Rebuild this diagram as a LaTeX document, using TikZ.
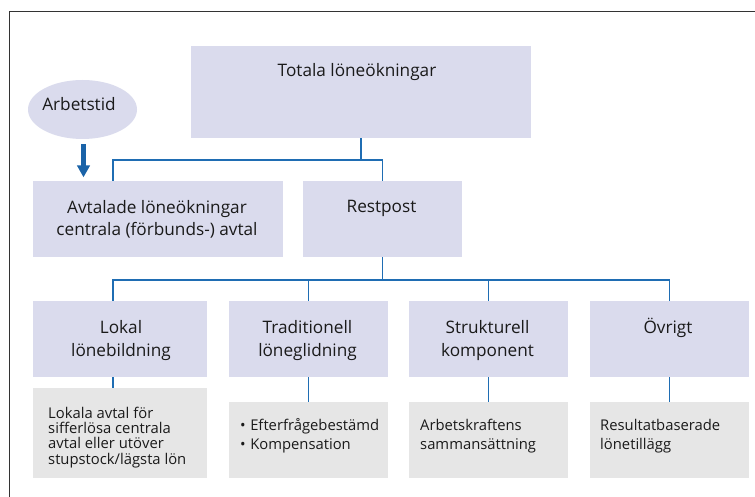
\documentclass[tikz,border=0pt]{standalone}
\usepackage{fontspec}
\setmainfont{Open Sans}
\usetikzlibrary{shapes.geometric,arrows.meta}
\definecolor{lav}{HTML}{DADBED}
\definecolor{grayb}{HTML}{E6E6E6}
\definecolor{conblue}{HTML}{1F6DB3}
\definecolor{arrblue}{HTML}{1A63A8}
\definecolor{framec}{HTML}{333333}
\definecolor{txt}{HTML}{1A1A1A}
\tikzset{
  lavbox/.style={fill=lav, inner sep=0, draw=none},
  graybox/.style={fill=grayb, inner sep=0, draw=none},
  bigtext/.style={font=\fontsize{17.2}{22.5}\selectfont, inner sep=0, anchor=base, text=txt},
  smalltext/.style={font=\fontsize{14.8}{15.3}\selectfont, inner sep=0, anchor=base west, text=txt},
  conn/.style={draw=conblue, line width=1.6pt},
  framel/.style={draw=framec, line width=1pt}
}
\begin{document}
\begin{tikzpicture}[x=1pt,y=-1pt]
\useasboundingbox (0,0) rectangle (755,497);
\fill[white] (0,0) rectangle (755,497);
\draw[framel] (755,12) -- (9,12) -- (9,497);

% top level
\node[lavbox, minimum width=340pt, minimum height=92pt] (tot) at (361,92) {};
\node[bigtext] (totT) at (357,77) {Totala löneökningar};

\node[ellipse, fill=lav, inner sep=0, minimum width=109pt, minimum height=59pt] (arb) at (82.5,109.5) {};
\node[bigtext] (arbT) at (79,110.5) {Arbetstid};

% second level
\node[lavbox, minimum width=250pt, minimum height=76pt] (avt) at (158,219) {};
\node[bigtext] (avtT1) at (157,213.3) {Avtalade löneökningar};
\node[bigtext] (avtT2) at (157,235.8) {centrala (förbunds-) avtal};
\node[lavbox, minimum width=159pt, minimum height=76pt] (rest) at (382.5,219) {};
\node[bigtext] (restT) at (381.5,213) {Restpost};

% third level
\node[lavbox, minimum width=174pt, minimum height=76pt] (b1) at (120,339) {};
\node[bigtext] (b1T1) at (121,333.3) {Lokal};
\node[bigtext] (b1T2) at (121,356) {lönebildning};
\node[lavbox, minimum width=159pt, minimum height=76pt] (b2) at (308.5,339) {};
\node[bigtext] (b2T1) at (307.5,333.3) {Traditionell};
\node[bigtext] (b2T2) at (307.5,356) {löneglidning};
\node[lavbox, minimum width=159pt, minimum height=76pt] (b3) at (488.5,339) {};
\node[bigtext] (b3T1) at (487.5,333.3) {Strukturell};
\node[bigtext] (b3T2) at (487.5,356) {komponent};
\node[lavbox, minimum width=159pt, minimum height=76pt] (b4) at (669.5,339) {};
\node[bigtext] (b4T) at (668,333.3) {Övrigt};

% gray boxes
\node[graybox, minimum width=174pt, minimum height=90pt] (g1) at (120,433) {};
\node[smalltext] (g1T1) at (48,418.3) {Lokala avtal för};
\node[smalltext] (g1T2) at (48,433.6) {sifferlösa centrala};
\node[smalltext] (g1T3) at (48,448.9) {avtal eller utöver};
\node[smalltext] (g1T4) at (48,464.2) {stupstock/lägsta lön};
\node[graybox, minimum width=159pt, minimum height=76pt] (g2) at (308.5,440) {};
\node[smalltext] (g2T1) at (240,430) {\textbullet\hspace{4.5pt}Efterfrågebestämd};
\node[smalltext] (g2T2) at (240,449) {\textbullet\hspace{4.5pt}Kompensation};
\node[graybox, minimum width=159pt, minimum height=76pt] (g3) at (488.5,440) {};
\node[smalltext] (g3T1) at (420,430) {Arbetskraftens};
\node[smalltext] (g3T2) at (420,449) {sammansättning};
\node[graybox, minimum width=159pt, minimum height=76pt] (g4) at (669.5,440) {};
\node[smalltext] (g4T1) at (600,430) {Resultatbaserade};
\node[smalltext] (g4T2) at (600,449) {lönetillägg};

% connectors
\coordinate (ja) at (113,160);
\coordinate (jb) at (113,280);
\draw[conn] (tot.south) -- (tot.south |- ja);
\draw[conn] (avt.north -| ja) -- (ja) -| (rest.north);
\draw[conn] (rest.south) -- (rest.south |- jb);
\draw[conn] (b1.north -| jb) -- (jb) -| (b4.north);
\draw[conn] (b2.north) -- (b2.north |- jb);
\draw[conn] (b3.north) -- (b3.north |- jb);
\draw[conn] (b1.south -| jb) -- (g1.north -| jb);
\draw[conn] (b2.south) -- (g2.north);
\draw[conn] (b3.south) -- (g3.north);
\draw[conn] (b4.south) -- (g4.north);

% arrow
\coordinate (ax) at (83.5,0);
\draw[draw=arrblue, line width=4.7pt, -{Triangle[width=12.5pt,length=12pt]}, shorten <=5pt, shorten >=3.5pt] (arb.south -| ax) -- (avt.north -| ax);
\end{tikzpicture}
\end{document}
